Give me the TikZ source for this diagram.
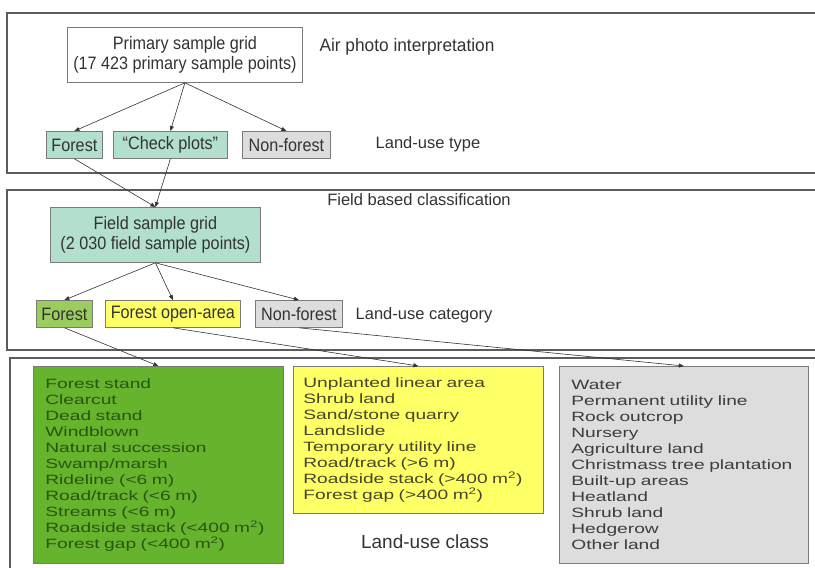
\documentclass[tikz,border=0pt]{standalone}
\usepackage{fontspec}
\setmainfont{Liberation Sans}
\newfontfamily\listfont[FakeStretch=1.42]{Liberation Sans}
\newfontfamily\boxfont[FakeStretch=0.9]{Liberation Sans}
\newfontfamily\lvlfont[FakeStretch=0.96]{Liberation Sans}
\usetikzlibrary{arrows.meta, positioning}
\usepackage{xcolor}
\definecolor{ink}      {HTML}{333333}
\definecolor{frame}    {HTML}{5C5C5C}
\definecolor{edge}     {HTML}{7A7A7A}
\definecolor{teal}     {HTML}{B2E0CC}
\definecolor{leaf}     {HTML}{9ACD5E}
\definecolor{grass}    {HTML}{66B32E}
\definecolor{grassink} {HTML}{2A5510}
\definecolor{lemon}    {HTML}{FFFF66}
\definecolor{lemonink} {HTML}{45452A}
\definecolor{stone}    {HTML}{DDDDDD}
\definecolor{stoneink} {HTML}{3C3C3C}
\tikzset{
  panel/.style  = {draw=frame, line width=1.2pt},
  box/.style    = {draw=edge, line width=0.8pt, inner sep=0pt,
                   anchor=north west, align=center, text=ink,
                   font=\boxfont\fontsize{18}{20}\selectfont},
  tealbox/.style  = {box, fill=teal},
  leafbox/.style  = {box, fill=leaf},
  lemonbox/.style = {box, fill=lemon},
  stonebox/.style = {box, fill=stone},
  listbox/.style  = {draw=edge, line width=0.8pt, inner ysep=0pt,
                     anchor=north west, align=left,
                     font=\listfont\fontsize{13.5}{16}\selectfont},
  arr/.style    = {-{Triangle[length=5pt, width=4pt]}, line width=0.6pt, ink},
  lvl/.style    = {anchor=base, text=ink, font=\fontsize{16.5}{20}\selectfont},
}

\begin{document}
\begin{tikzpicture}[x=1pt, y=-1pt]
  \useasboundingbox[fill=white] (0,0) rectangle (815,568);
  \clip (0,0) rectangle (815,568);

  % panels
  \draw[panel] (7,13)  rectangle (830,173);
  \draw[panel] (7,190) rectangle (830,350);
  \draw[panel] (10,358) rectangle (830,590);

  % air photo level
  \node[box, minimum width=235pt, minimum height=55pt] (prim) at (67,27)
    {Primary sample grid\\(17 423 primary sample points)};
  \node[tealbox, minimum width=56pt, minimum height=27pt] (forest1) at (46,131) {Forest};
  \node[tealbox, minimum width=114pt, minimum height=27pt] (check) at (113,131) {“Check plots”};
  \node[stonebox, minimum width=88pt, minimum height=27pt] (nonf1) at (242,131) {Non-forest};

  % field level
  \node[tealbox, minimum width=210pt, minimum height=55pt] (field) at (50,207)
    {Field sample grid\\(2 030 field sample points)};
  \node[leafbox, minimum width=56pt, minimum height=27pt] (forest2) at (36,300) {Forest};
  \node[lemonbox, minimum width=135pt, minimum height=27pt] (open) at (105,300) {Forest open-area};
  \node[stonebox, minimum width=87pt, minimum height=27pt] (nonf2) at (255,300) {Non-forest};

  % land-use classes
  \node[listbox, fill=grass, text=grassink, inner xsep=12pt, text width=226pt,
        minimum height=197pt] (green) at (33,366) {%
    Forest stand\\Clearcut\\Dead stand\\Windblown\\Natural succession\\
    Swamp/marsh\\Rideline (<6 m)\\Road/track (<6 m)\\Streams (<6 m)\\
    Roadside stack (<400 m\textsuperscript{2})\\Forest gap (<400 m\textsuperscript{2})};
  \node[listbox, fill=lemon, text=lemonink, inner xsep=10pt, text width=230pt,
        minimum height=147pt] (yellow) at (293,366) {%
    Unplanted linear area\\Shrub land\\Sand/stone quarry\\Landslide\\
    Temporary utility line\\Road/track (>6 m)\\
    Roadside stack (>400 m\textsuperscript{2})\\Forest gap (>400 m\textsuperscript{2})};
  \node[listbox, fill=stone, text=stoneink, inner xsep=12pt, text width=225pt,
        minimum height=197pt] (gray) at (559,366) {%
    Water\\Permanent utility line\\Rock outcrop\\Nursery\\Agriculture land\\
    Christmass tree plantation\\Built-up areas\\Heatland\\Shrub land\\
    Hedgerow\\Other land};

  % level labels
  \node[lvl, font=\lvlfont\fontsize{18}{20}\selectfont] (airlbl) at (407,51) {Air photo interpretation};
  \node[lvl] (typelbl) at (428,148) {Land-use type};
  \node[lvl] (fieldlbl) at (419,205) {Field based classification};
  \node[lvl] (catlbl) at (424,319) {Land-use category};
  \node[lvl, font=\fontsize{19}{22}\selectfont] (classlbl) at (425,548) {Land-use class};

  % arrows
  \draw[arr] (prim.south) -- (forest1.north);
  \draw[arr] (prim.south) -- (check.north);
  \draw[arr] (prim.south) -- (nonf1.north);
  \draw[arr] (forest1.south) -- (field.north);
  \draw[arr] (check.south) -- (field.north);
  \draw[arr] (field.south) -- (forest2.north);
  \draw[arr] (field.south) -- (open.north);
  \draw[arr] (field.south) -- (nonf2.north);
  \draw[arr] (forest2.south) -- (green.north);
  \draw[arr] (open.south) -- (yellow.north);
  \draw[arr] (nonf2.south) -- (gray.north);

\end{tikzpicture}
\end{document}
